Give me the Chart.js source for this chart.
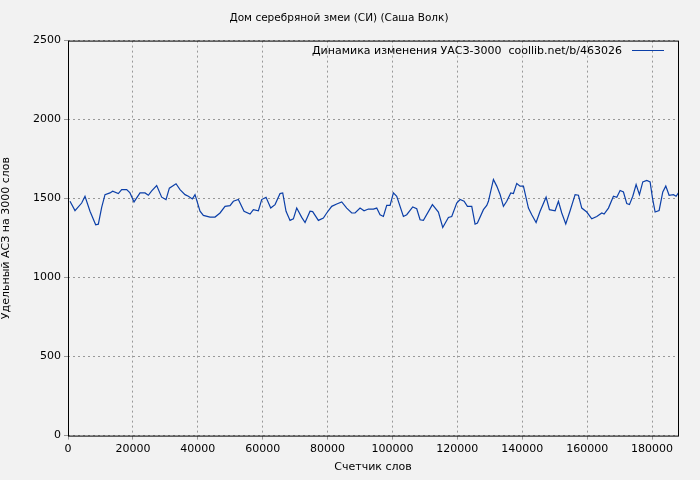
<!DOCTYPE html><html><head><meta charset="utf-8"><script src="https://cdn.jsdelivr.net/npm/chart.js@4"></script>
<style>html,body{margin:0;background:#f2f2f2}</style></head><body><canvas id="c" width="700" height="480"></canvas>
<script>
const title="Дом серебряной змеи (СИ) (Саша Волк)";
const legendLabel="Динамика изменения УАСЗ-3000  coollib.net/b/463026";
const xTitle="Счетчик слов";
const yTitle="Удельный АСЗ на 3000 слов";
const words=[617,2158,4213,5240,6781,8528,9350,10378,11405,12946,13768,15515,16542,18084,19111,20344,22194,23735,24763,25790,27331,28873,30208,31236,33291,34524,36065,37093,38326,39148,40689,41717,43772,45313,46854,48395,49937,50964,52505,54252,56101,57129,58670,59697,61033,62474,63810,65351,66173,67200,68434,69461,70489,72030,73057,74599,75400,77167,78709,79736,81277,82819,84360,85901,87443,88470,90011,91244,92580,94121,95149,96176,97204,98231,99259,100286,101314,103369,104396,106246,107479,108507,109534,112308,114158,115494,117240,118268,119809,120837,122071,123098,124434,125461,126181,128030,129058,129572,131113,132140,133168,134195,135223,136456,137278,138305,139333,140360,141901,142929,144265,145498,147347,148375,150122,151149,152177,153410,154746,156287,157315,158343,159884,161425,162966,164508,165227,166563,168104,169132,170159,171187,172214,173036,174064,175091,176119,177146,178379,179406,180126,180948,182181,183311,184236,185263,186599,187421,188140];
const values=[1483,1424,1472,1515,1420,1334,1338,1445,1525,1536,1547,1532,1557,1557,1536,1479,1536,1536,1521,1549,1583,1509,1494,1566,1594,1557,1525,1515,1498,1525,1420,1394,1383,1383,1409,1451,1455,1483,1494,1420,1402,1430,1423,1494,1508,1440,1462,1532,1536,1420,1362,1372,1440,1381,1349,1420,1418,1362,1377,1409,1451,1466,1479,1440,1409,1409,1440,1423,1434,1434,1440,1398,1387,1457,1457,1536,1515,1387,1398,1447,1436,1366,1362,1462,1415,1317,1381,1387,1472,1494,1483,1451,1451,1338,1345,1430,1457,1483,1621,1579,1526,1451,1483,1536,1532,1596,1579,1579,1440,1398,1349,1420,1509,1430,1423,1483,1409,1340,1423,1525,1521,1440,1415,1372,1387,1409,1402,1440,1515,1508,1551,1542,1468,1462,1515,1589,1525,1606,1615,1606,1504,1415,1425,1542,1579,1521,1525,1515,1536];
const xTicks=[0,20000,40000,60000,80000,100000,120000,140000,160000,180000];
const yTicks=[0,500,1000,1500,2000,2500];
const F="DejaVu Sans";
const deco={id:'deco',afterDraw(ch){const c=ch.ctx,a=ch.chartArea;c.save();
c.strokeStyle='#000';c.lineWidth=1;c.strokeRect(a.left+0.5,a.top+0.5,a.right-a.left,a.bottom-a.top);
c.font='11px '+F;c.fillStyle='#000';c.textAlign='right';c.textBaseline='middle';
c.fillText(legendLabel,a.right-56,51);c.strokeStyle='#0b3fa8';c.beginPath();c.moveTo(a.right-46,50.5);c.lineTo(a.right-14,50.5);c.stroke();c.restore();}};
new Chart(document.getElementById('c'),{type:'line',data:{datasets:[{data:words.map((w,i)=>({x:w,y:values[i]})),borderColor:'#0b3fa8',borderWidth:1.2,pointRadius:0,tension:0}]},
options:{responsive:false,animation:false,layout:{padding:{top:0,right:22,left:0,bottom:3}},
plugins:{legend:{display:false},tooltip:{enabled:false},title:{display:true,text:title,color:'#000',font:{family:F,size:10.5,weight:'normal'},padding:{top:12,bottom:16}}},
scales:{x:{type:'linear',min:0,max:188000,afterBuildTicks(s){s.ticks=xTicks.map(v=>({value:v}))},
ticks:{color:'#000',font:{family:F,size:11},maxRotation:0,callback:v=>String(v)},
grid:{color:'#999',drawTicks:true,tickLength:4},border:{display:false,dash:[2,3]},
title:{display:true,text:xTitle,color:'#000',font:{family:F,size:11},padding:{top:2,bottom:3}}},
y:{min:0,max:2500,afterBuildTicks(s){s.ticks=yTicks.map(v=>({value:v}))},afterFit(s){s.width=68},
ticks:{color:'#000',font:{family:F,size:11},callback:v=>String(v)},
grid:{color:'#999',tickLength:4},border:{display:false,dash:[2,3]},
title:{display:true,text:yTitle,color:'#000',font:{family:F,size:11},padding:{top:0,bottom:4}}}}},plugins:[deco]});
</script></body></html>
